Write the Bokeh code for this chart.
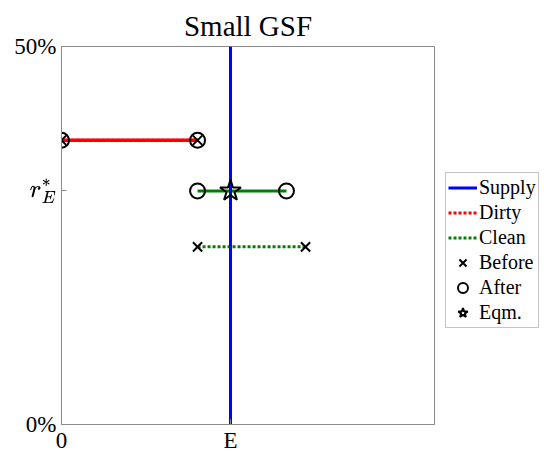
from bokeh.plotting import figure
from bokeh.layouts import row
from bokeh.models import Legend, LegendItem, FixedTicker, Range1d, TeX
from bokeh.embed import file_html
from bokeh.resources import INLINE

# ---- data ----
E = 1.0
r_star = 0.309
supply_x = [E, E]
supply_y = [0.0, 0.5]
dirty_before_x = [0.0, 0.805]
dirty_before_y = [0.376, 0.376]
dirty_after_x = [0.0, 0.805]
dirty_after_y = [0.376, 0.376]
clean_before_x = [0.805, 1.444]
clean_before_y = [0.235, 0.235]
clean_after_x = [0.805, 1.331]
clean_after_y = [r_star, r_star]
eqm_x = [E]
eqm_y = [r_star]
x_ticks = [0.0, E]
x_tick_labels = ["0", "E"]
y_ticks = [0.0, r_star, 0.5]
y_tick_labels = ["0%", r"r_E^*", "50%"]
legend_labels = ["Supply", "Dirty", "Clean", "Before", "After", "Eqm."]

FONT = "Liberation Serif"
GRAY = "#8a8a8a"

p = figure(width=444, height=455, output_backend="svg", toolbar_location=None,
           x_range=Range1d(0, 2.207), y_range=Range1d(0, 0.5),
           title="Small GSF", min_border_left=61, min_border_right=10,
           min_border_top=46, min_border_bottom=30)
p.title.text_font = FONT
p.title.text_font_size = "29px"
p.title.text_font_style = "normal"
p.title.align = "center"
p.title.text_color = "black"
p.title.standoff = 9
p.grid.visible = False
p.outline_line_color = GRAY
p.outline_line_width = 1

for ax in (p.xaxis[0], p.yaxis[0]):
    ax.axis_line_color = GRAY
    ax.major_tick_line_color = GRAY
    ax.minor_tick_line_color = None
    ax.major_tick_in = 5
    ax.major_tick_out = 0
    ax.major_label_text_font = FONT
    ax.major_label_text_font_size = "23px"
    ax.major_label_text_color = "black"

p.xaxis.ticker = FixedTicker(ticks=x_ticks)
p.xaxis.major_label_overrides = {t: l for t, l in zip(x_ticks, x_tick_labels)}
p.yaxis.ticker = FixedTicker(ticks=y_ticks)
p.yaxis.major_label_overrides = {
    y_ticks[0]: y_tick_labels[0],
    y_ticks[1]: TeX(text=y_tick_labels[1]),
    y_ticks[2]: y_tick_labels[2],
}
p.yaxis.major_label_standoff = 5
p.xaxis.major_label_standoff = 3

LW = 3
DASH = "3 2"


def draw(fig):
    rs = []
    rs.append(fig.line(dirty_before_x, dirty_before_y, color="red", line_width=LW, line_dash=DASH))
    rs.append(fig.line(clean_before_x, clean_before_y, color="green", line_width=LW, line_dash=DASH))
    fig.line(dirty_after_x, dirty_after_y, color="red", line_width=LW + 0.5)
    fig.line(clean_after_x, clean_after_y, color="green", line_width=LW)
    rs.insert(0, fig.line(supply_x, supply_y, color="blue", line_width=LW))
    rs.append(fig.scatter(dirty_before_x + clean_before_x, dirty_before_y + clean_before_y,
                          marker="x", size=13, line_color="black", line_width=2))
    rs.append(fig.scatter(dirty_after_x + clean_after_x, dirty_after_y + clean_after_y,
                          marker="circle", size=15, line_color="black", fill_color=None,
                          line_width=2))
    rs.append(fig.scatter(eqm_x, eqm_y, marker="star", size=22, line_color="black",
                          fill_color=None, line_width=2))
    return rs


draw(p)

# ---- legend panel: same series, drawn outside this panel's visible range ----
q = figure(width=100, height=455, output_backend="svg", toolbar_location=None,
           x_axis_type=None, y_axis_type=None, min_border=0,
           x_range=Range1d(100, 101), y_range=Range1d(100, 101))
q.outline_line_color = None
q.grid.visible = False
lr = draw(q)
legend = Legend(items=[LegendItem(label=l, renderers=[r]) for l, r in zip(legend_labels, lr)],
                location=(1, 96))
legend.label_text_font = FONT
legend.label_text_font_size = "20px"
legend.label_text_color = "black"
legend.border_line_color = GRAY
legend.border_line_width = 1
legend.glyph_width = 29
legend.glyph_height = 25
legend.label_height = 25
legend.spacing = 0
legend.padding = 2
legend.margin = 0
legend.label_standoff = 2
q.add_layout(legend, "center")

layout = row(p, q)
open("out.html", "w").write(file_html(layout, INLINE))
